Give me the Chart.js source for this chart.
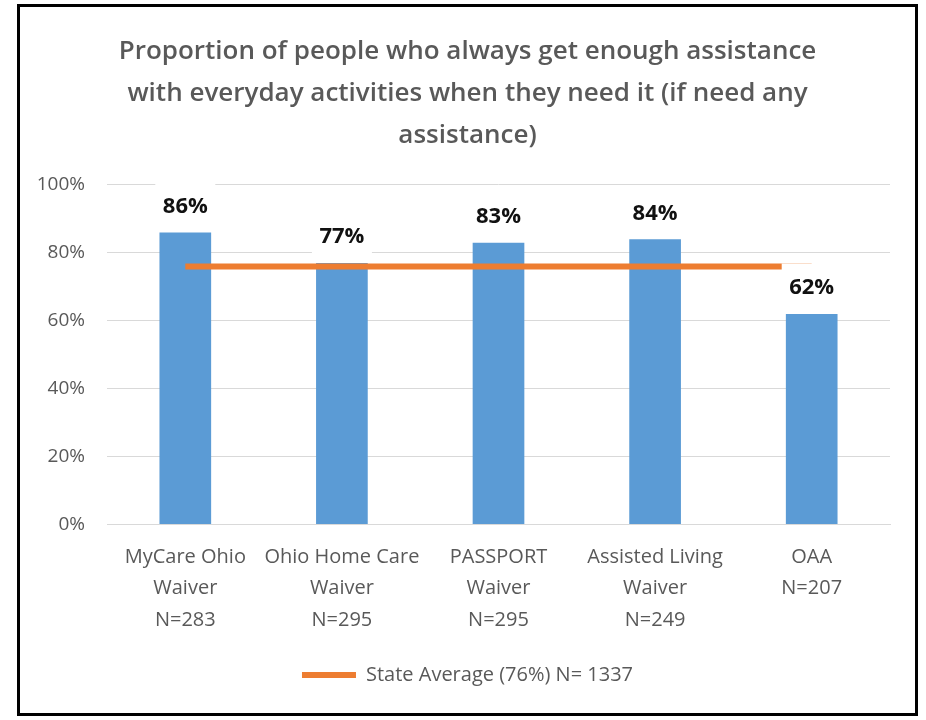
<!DOCTYPE html>
<html>
<head>
<meta charset="utf-8">
<title>Assistance with everyday activities</title>
<script src="https://cdn.jsdelivr.net/npm/chart.js@4/dist/chart.umd.min.js"></script>
<style>
  html, body { margin: 0; padding: 0; background: #ffffff; }
  #frame {
    position: absolute; left: 17px; top: 4px;
    width: 895px; height: 706px;
    border: 3px solid #000000; background: #ffffff;
  }
  #chart { display: block; }
</style>
</head>
<body>
<div id="frame"><canvas id="chart" width="895" height="706"></canvas></div>
<script>
// Program categories (multi-line axis labels)
const categories = [
  ["MyCare Ohio", "Waiver", "N=283"],
  ["Ohio Home Care", "Waiver", "N=295"],
  ["PASSPORT", "Waiver", "N=295"],
  ["Assisted Living", "Waiver", "N=249"],
  ["OAA", "N=207"]
];
// Share who always get enough assistance, percent
const programShares = [86, 77, 83, 84, 62];
// Statewide average drawn as a reference line
const stateAverage = [76, 76, 76, 76, 76];
const stateAverageLabel = "State Average (76%) N= 1337";
// Y axis range and tick step (percent)
const yMin = 0, yMax = 100, yStep = 20;

const titleLines = [
  "Proportion of people who always get enough assistance",
  "with everyday activities when they need it (if need any",
  "assistance)"
];

const FONT = "'Open Sans', 'DejaVu Sans', sans-serif";
const GREY = "#595959";
const GRID = "#d9d9d9";
const BLUE = "#5b9bd5";
const ORANGE = "#ed7d31";

// Value labels above each bar, on a white box
const barValueLabels = {
  id: "barValueLabels",
  afterDatasetsDraw(chart) {
    const meta = chart.getDatasetMeta(0);
    const ctx = chart.ctx;
    ctx.save();
    ctx.font = "bold 22px " + FONT;
    ctx.textAlign = "center";
    ctx.textBaseline = "middle";
    meta.data.forEach((bar, i) => {
      const cx = bar.x;
      const cy = bar.y - 27;
      ctx.fillStyle = "#ffffff";
      ctx.fillRect(cx - 30, cy - 23.5, 60, 47);
      ctx.fillStyle = "#111111";
      ctx.fillText(programShares[i] + "%", cx, cy + 1);
    });
    ctx.restore();
  }
};

new Chart(document.getElementById("chart"), {
  type: "bar",
  data: {
    labels: categories,
    datasets: [
      {
        type: "bar",
        label: "Programs",
        data: programShares,
        backgroundColor: BLUE,
        borderWidth: 0,
        barPercentage: 0.33,
        categoryPercentage: 1.0,
        order: 1
      },
      {
        type: "line",
        label: stateAverageLabel,
        data: stateAverage,
        borderColor: ORANGE,
        backgroundColor: ORANGE,
        borderWidth: 6,
        pointRadius: 0,
        pointHoverRadius: 0,
        fill: false,
        tension: 0,
        order: 0
      }
    ]
  },
  options: {
    responsive: false,
    animation: false,
    events: [],
    layout: { padding: { left: 0, right: 0, top: 0, bottom: 18 } },
    plugins: {
      title: {
        display: true,
        text: titleLines,
        color: GREY,
        font: { family: FONT, size: 26, weight: "600", lineHeight: 1.615 },
        padding: { top: 24, bottom: 28 }
      },
      legend: {
        display: true,
        position: "bottom",
        labels: {
          color: GREY,
          font: { family: FONT, size: 20 },
          boxWidth: 54,
          boxHeight: 6,
          padding: 10,
          filter: (item) => item.datasetIndex === 1,
          generateLabels: (chart) => [{
            text: stateAverageLabel,
            fillStyle: ORANGE,
            strokeStyle: ORANGE,
            lineWidth: 0,
            fontColor: GREY,
            datasetIndex: 1,
            hidden: false
          }]
        }
      },
      tooltip: { enabled: false }
    },
    scales: {
      x: {
        grid: { display: false, drawTicks: false },
        border: { display: true, color: GRID, width: 1 },
        ticks: {
          color: GREY,
          font: { family: FONT, size: 20, lineHeight: 1.575 },
          padding: 17,
          maxRotation: 0,
          autoSkip: false
        },
        afterFit(scale) {
          scale.height = 130.5;
          // keep a margin to the right of the plot area only
          scale.paddingRight = 25;
        }
      },
      y: {
        min: yMin,
        max: yMax,
        grid: { color: GRID, lineWidth: 1, drawTicks: false },
        border: { display: false },
        ticks: {
          stepSize: yStep,
          color: GREY,
          font: { family: FONT, size: 19 },
          padding: 22,
          callback: (v) => v + "%"
        },
        afterFit(scale) { scale.width = 87; }
      }
    }
  },
  plugins: [barValueLabels]
});
</script>
</body>
</html>
